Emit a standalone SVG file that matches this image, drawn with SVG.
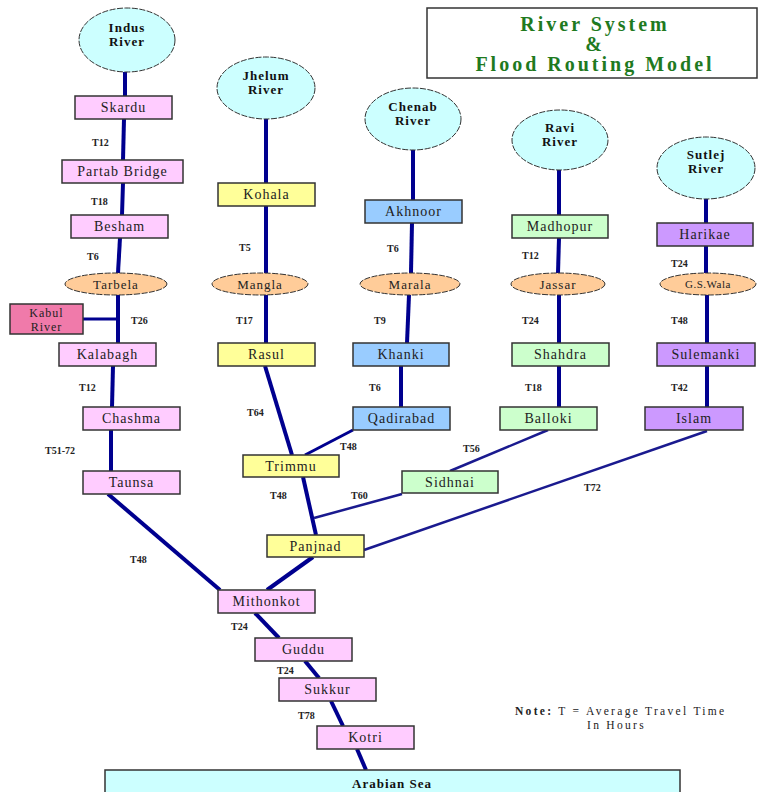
<svg xmlns="http://www.w3.org/2000/svg" width="758" height="792" viewBox="0 0 758 792">
<style>
.bg{fill:#ffffff}
.ln{stroke:#00008f;stroke-width:4;fill:none;stroke-linecap:butt}
.lt{stroke:#1a1a8f;stroke-width:2.5;fill:none}
.box{stroke:#333;stroke-width:1.5}
.riv{fill:#ccffff;stroke:#333;stroke-width:1;stroke-dasharray:6 1.5}
.dam{fill:#ffcc99;stroke:#333;stroke-width:1;stroke-dasharray:6 1.5}
.pk{fill:#ffccff}
.kb{fill:#f07aaa}
.yl{fill:#ffff99}
.bl{fill:#99ccff}
.gr{fill:#ccffcc}
.pu{fill:#cc99ff}
.sea{fill:#ccffff;stroke:#333;stroke-width:1.5}
text{font-family:"Liberation Serif","DejaVu Serif",serif;fill:#222}
.st{font-size:14px;letter-spacing:1px;text-anchor:middle}
.rn{font-size:13px;font-weight:bold;letter-spacing:1px;text-anchor:middle;fill:#111}
.t{font-size:10px;font-weight:bold;fill:#222}
.ttl{font-size:20px;font-weight:bold;letter-spacing:3px;text-anchor:middle;fill:#1f7a1f}
.note{font-size:11.5px;letter-spacing:2.3px;fill:#222}
</style>
<rect class="bg" x="0" y="0" width="758" height="792"/>

<g id="title">
<rect x="427" y="8" width="330" height="70" fill="#fff" stroke="#333" stroke-width="1.5"/>
<text class="ttl" x="595" y="31">River System</text>
<text class="ttl" x="595" y="51">&amp;</text>
<text class="ttl" x="595" y="71">Flood Routing Model</text>
</g>

<g id="connectors">
<!-- Indus -->
<line class="ln" x1="125" y1="72" x2="125" y2="96"/>
<line class="ln" x1="124" y1="119" x2="123" y2="160"/>
<line class="ln" x1="123" y1="183" x2="122" y2="215"/>
<line class="ln" x1="120" y1="238" x2="118" y2="273"/>
<line class="ln" x1="118" y1="295" x2="118" y2="343"/>
<line class="ln" x1="83" y1="319" x2="118" y2="319" style="stroke-width:3"/>
<line class="ln" x1="113" y1="366" x2="112" y2="407"/>
<line class="ln" x1="111" y1="430" x2="111" y2="471"/>
<line class="ln" x1="108" y1="494" x2="220" y2="590"/>
<line class="ln" x1="255" y1="613" x2="279" y2="638"/>
<line class="ln" x1="305" y1="661" x2="319" y2="678"/>
<line class="ln" x1="331" y1="701" x2="343" y2="726"/>
<line class="ln" x1="357" y1="749" x2="366" y2="770"/>
<!-- Jhelum -->
<line class="ln" x1="266" y1="119" x2="266" y2="183"/>
<line class="ln" x1="266" y1="206" x2="266" y2="273"/>
<line class="ln" x1="266" y1="295" x2="266" y2="343"/>
<line class="ln" x1="265" y1="366" x2="292" y2="455"/>
<line class="ln" x1="303" y1="477" x2="316" y2="535"/>
<line class="ln" x1="313" y1="557" x2="267" y2="590"/>
<!-- Chenab -->
<line class="ln" x1="413" y1="150" x2="413" y2="200"/>
<line class="ln" x1="412" y1="223" x2="411" y2="273"/>
<line class="ln" x1="409" y1="295" x2="407" y2="343"/>
<line class="ln" x1="401" y1="366" x2="401" y2="407"/>
<line class="ln" x1="353" y1="430" x2="305" y2="455" style="stroke-width:3"/>
<!-- Ravi -->
<line class="ln" x1="559" y1="170" x2="559" y2="215"/>
<line class="ln" x1="559" y1="238" x2="558" y2="273"/>
<line class="ln" x1="559" y1="295" x2="559" y2="343"/>
<line class="ln" x1="559" y1="366" x2="559" y2="407"/>
<line class="lt" x1="548" y1="430" x2="450" y2="471"/>
<line class="lt" x1="402" y1="494" x2="314" y2="518"/>
<!-- Sutlej -->
<line class="ln" x1="706" y1="199" x2="706" y2="223"/>
<line class="ln" x1="706" y1="246" x2="706" y2="273"/>
<line class="ln" x1="707" y1="295" x2="707" y2="343"/>
<line class="ln" x1="707" y1="366" x2="707" y2="407"/>
<line class="lt" x1="707" y1="431" x2="364" y2="550"/>
</g>

<g id="labels">
<text class="t" x="92" y="146">T12</text>
<text class="t" x="91" y="205">T18</text>
<text class="t" x="87" y="260">T6</text>
<text class="t" x="131" y="324">T26</text>
<text class="t" x="79" y="391">T12</text>
<text class="t" x="45" y="454">T51-72</text>
<text class="t" x="130" y="563">T48</text>
<text class="t" x="231" y="630">T24</text>
<text class="t" x="277" y="674">T24</text>
<text class="t" x="298" y="719">T78</text>
<text class="t" x="239" y="251">T5</text>
<text class="t" x="236" y="324">T17</text>
<text class="t" x="247" y="416">T64</text>
<text class="t" x="270" y="499">T48</text>
<text class="t" x="387" y="252">T6</text>
<text class="t" x="374" y="324">T9</text>
<text class="t" x="369" y="391">T6</text>
<text class="t" x="340" y="450">T48</text>
<text class="t" x="522" y="259">T12</text>
<text class="t" x="522" y="324">T24</text>
<text class="t" x="525" y="391">T18</text>
<text class="t" x="463" y="452">T56</text>
<text class="t" x="351" y="499">T60</text>
<text class="t" x="671" y="267">T24</text>
<text class="t" x="671" y="324">T48</text>
<text class="t" x="671" y="391">T42</text>
<text class="t" x="584" y="491">T72</text>
</g>

<g id="indus-river"><ellipse class="riv" cx="127" cy="40" rx="48" ry="32"/><text class="rn" x="127" y="32">Indus</text><text class="rn" x="127" y="46">River</text></g>
<g id="skardu"><rect class="box pk" x="75" y="96" width="97" height="23"/><text class="st" x="123.5" y="112">Skardu</text></g>
<g id="partab-bridge"><rect class="box pk" x="62" y="160" width="121" height="23"/><text class="st" x="122.5" y="176">Partab Bridge</text></g>
<g id="besham"><rect class="box pk" x="71" y="215" width="97" height="23"/><text class="st" x="119.5" y="231">Besham</text></g>
<g id="tarbela"><ellipse class="dam" cx="116" cy="284" rx="51" ry="11"/><text class="st" x="116" y="289" style="font-size:13px">Tarbela</text></g>
<g id="kabul-river"><rect class="box kb" x="10" y="304" width="73" height="30"/><text class="st" x="46.5" y="317" style="font-size:12px">Kabul</text><text class="st" x="46.5" y="330.5" style="font-size:12px">River</text></g>
<g id="kalabagh"><rect class="box pk" x="59" y="343" width="97" height="23"/><text class="st" x="107.5" y="359">Kalabagh</text></g>
<g id="chashma"><rect class="box pk" x="83" y="407" width="97" height="23"/><text class="st" x="131.5" y="423">Chashma</text></g>
<g id="taunsa"><rect class="box pk" x="83" y="471" width="97" height="23"/><text class="st" x="131.5" y="487">Taunsa</text></g>
<g id="mithonkot"><rect class="box pk" x="218" y="590" width="97" height="23"/><text class="st" x="266.5" y="606">Mithonkot</text></g>
<g id="guddu"><rect class="box pk" x="255" y="638" width="97" height="23"/><text class="st" x="303.5" y="654">Guddu</text></g>
<g id="sukkur"><rect class="box pk" x="279" y="678" width="97" height="23"/><text class="st" x="327.5" y="694">Sukkur</text></g>
<g id="kotri"><rect class="box pk" x="317" y="726" width="97" height="23"/><text class="st" x="365.5" y="742">Kotri</text></g>
<g id="arabian-sea"><rect class="sea" x="105" y="770" width="575" height="40"/><text class="rn" x="392" y="788">Arabian Sea</text></g>

<g id="jhelum-river"><ellipse class="riv" cx="266" cy="88" rx="49" ry="31"/><text class="rn" x="266" y="80">Jhelum</text><text class="rn" x="266" y="94">River</text></g>
<g id="kohala"><rect class="box yl" x="218" y="183" width="97" height="23"/><text class="st" x="266.5" y="199">Kohala</text></g>
<g id="mangla"><ellipse class="dam" cx="260" cy="284" rx="48" ry="11"/><text class="st" x="260" y="289" style="font-size:13px">Mangla</text></g>
<g id="rasul"><rect class="box yl" x="218" y="343" width="97" height="23"/><text class="st" x="266.5" y="359">Rasul</text></g>
<g id="trimmu"><rect class="box yl" x="243" y="455" width="96" height="22"/><text class="st" x="291" y="471">Trimmu</text></g>
<g id="panjnad"><rect class="box yl" x="267" y="535" width="97" height="22"/><text class="st" x="315.5" y="551">Panjnad</text></g>

<g id="chenab-river"><ellipse class="riv" cx="413" cy="119" rx="48" ry="31"/><text class="rn" x="413" y="111">Chenab</text><text class="rn" x="413" y="125">River</text></g>
<g id="akhnoor"><rect class="box bl" x="365" y="200" width="97" height="23"/><text class="st" x="413.5" y="216">Akhnoor</text></g>
<g id="marala"><ellipse class="dam" cx="410" cy="284" rx="50" ry="11"/><text class="st" x="410" y="289" style="font-size:13px">Marala</text></g>
<g id="khanki"><rect class="box bl" x="353" y="343" width="96" height="23"/><text class="st" x="401" y="359">Khanki</text></g>
<g id="qadirabad"><rect class="box bl" x="353" y="407" width="97" height="23"/><text class="st" x="401.5" y="423">Qadirabad</text></g>

<g id="ravi-river"><ellipse class="riv" cx="560" cy="140" rx="48" ry="30"/><text class="rn" x="560" y="132">Ravi</text><text class="rn" x="560" y="146">River</text></g>
<g id="madhopur"><rect class="box gr" x="512" y="215" width="96" height="23"/><text class="st" x="560" y="231">Madhopur</text></g>
<g id="jassar"><ellipse class="dam" cx="558" cy="284" rx="47" ry="11"/><text class="st" x="558" y="289" style="font-size:13px">Jassar</text></g>
<g id="shahdra"><rect class="box gr" x="512" y="343" width="97" height="23"/><text class="st" x="560.5" y="359">Shahdra</text></g>
<g id="balloki"><rect class="box gr" x="500" y="407" width="97" height="23"/><text class="st" x="548.5" y="423">Balloki</text></g>
<g id="sidhnai"><rect class="box gr" x="402" y="471" width="96" height="22"/><text class="st" x="450" y="487">Sidhnai</text></g>

<g id="sutlej-river"><ellipse class="riv" cx="706" cy="168" rx="49" ry="31"/><text class="rn" x="706" y="159">Sutlej</text><text class="rn" x="706" y="173">River</text></g>
<g id="harikae"><rect class="box pu" x="657" y="223" width="96" height="23"/><text class="st" x="705" y="239">Harikae</text></g>
<g id="gs-wala"><ellipse class="dam" cx="708" cy="284" rx="48" ry="11"/><text class="st" x="708" y="288" style="font-size:11px;letter-spacing:0.5px">G.S.Wala</text></g>
<g id="sulemanki"><rect class="box pu" x="657" y="343" width="98" height="23"/><text class="st" x="706" y="359">Sulemanki</text></g>
<g id="islam"><rect class="box pu" x="645" y="407" width="98" height="23"/><text class="st" x="694" y="423">Islam</text></g>

<g id="note">
<text class="note" x="515" y="715"><tspan font-weight="bold">Note:</tspan> T = Average Travel Time</text>
<text class="note" x="587" y="729">In Hours</text>
</g>
</svg>
